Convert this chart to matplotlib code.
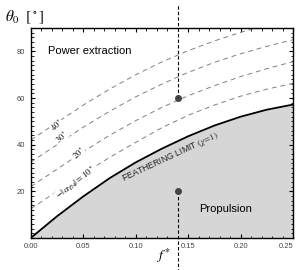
import matplotlib
matplotlib.use("Agg")
import matplotlib.pyplot as plt
from matplotlib.ticker import MultipleLocator

plt.rcParams['font.family'] = ['Liberation Sans', 'DejaVu Sans']
plt.rcParams['mathtext.fontset'] = 'stix'

# values
f = [0.0, 0.025, 0.05, 0.075, 0.10, 0.125, 0.15, 0.175, 0.20, 0.225, 0.25]
theta_feather = [0.0, 9.3, 17.8, 25.6, 32.4, 38.3, 43.6, 48.2, 52.0, 55.0, 57.2]
theta_a10 = [12.5, 20.0, 27.5, 34.5, 41.0, 47.3, 52.6, 57.0, 60.8, 63.8, 66.3]
theta_a20 = [22.0, 29.5, 37.0, 44.0, 50.3, 56.0, 61.0, 65.3, 69.2, 72.6, 75.6]
theta_a30 = [32.5, 40.0, 47.5, 54.3, 60.5, 66.0, 71.0, 75.3, 79.0, 82.2, 85.0]
theta_a40 = [42.0, 49.5, 57.0, 63.8, 70.0, 75.5, 80.3, 84.5, 88.2, 91.4, 94.2]

f_star = 0.14
theta_power = 60
theta_prop = 20

xticks = [0.0, 0.05, 0.10, 0.15, 0.20, 0.25]
yticks = [20, 40, 60, 80]

fig = plt.figure(figsize=(2.97, 2.70), dpi=100)
ax = fig.add_axes([0.104, 0.119, 0.883, 0.777])

ax.fill_between(f, 0, theta_feather, color='#d6d6d6', lw=0)
ax.plot(f, theta_feather, color='black', lw=1.3, zorder=4)

for th in (theta_a10, theta_a20, theta_a30, theta_a40):
    ax.plot(f, th, color='#808080', lw=0.7, ls=(0, (5, 4)), zorder=2)

# f* markers
ax.plot([f_star, f_star], [theta_power, 100], color='black', lw=0.8,
        ls=(0, (3, 2)), clip_on=False, zorder=3)
ax.plot([f_star, f_star], [theta_prop, -14], color='black', lw=0.8,
        ls=(0, (3, 2)), clip_on=False, zorder=3)
ax.plot([f_star], [theta_power], 'o', color='#444444', ms=4, zorder=5)
ax.plot([f_star], [theta_prop], 'o', color='#444444', ms=4, zorder=5)

# labels
box = dict(facecolor='white', edgecolor='none', pad=0.3)
ax.text(0.043, 23.4, r'$-|\,\alpha_{T/4}|=10^\circ$', fontsize=6.5, rotation=38,
        ha='center', va='center', bbox=box, zorder=3)
ax.text(0.045, 36.3, r'$20^\circ$', fontsize=6, rotation=42,
        ha='center', va='center', bbox=box, zorder=3)
ax.text(0.029, 43.4, r'$30^\circ$', fontsize=6, rotation=42,
        ha='center', va='center', bbox=box, zorder=3)
ax.text(0.0245, 48.4, r'$40^\circ$', fontsize=6, rotation=42,
        ha='center', va='center', bbox=box, zorder=3)

ax.text(0.016, 80, 'Power extraction', fontsize=8, ha='left', va='center')
ax.text(0.186, 12.4, 'Propulsion', fontsize=8, ha='center', va='center')
ax.text(0.133, 35.0, r'FEATHERING LIMIT $(\chi\!=\!1)$', fontsize=6.3,
        rotation=25, ha='center', va='center', color='#222222', zorder=5)

ax.set_xlim(0, 0.25)
ax.set_ylim(0, 90)
ax.set_xticks(xticks)
ax.set_xticklabels(['%.2f' % v for v in xticks])
ax.get_xticklabels()[-1].set_ha('right')
ax.set_yticks(yticks)
ax.xaxis.set_minor_locator(MultipleLocator(0.01))
ax.yaxis.set_minor_locator(MultipleLocator(2))
ax.tick_params(which='both', direction='in', top=True, right=True,
               labelsize=5.5, labelcolor='#444444', pad=4)
ax.tick_params(which='major', length=3, width=0.8)
ax.tick_params(which='minor', length=1.8, width=0.6)
for s in ax.spines.values():
    s.set_linewidth(1.0)

fig.text(0.017, 0.935, r'$\theta_0\ \ [^\circ]$', fontsize=11, ha='left', va='center')
fig.text(0.575, 0.055, r'$f^*$', fontsize=10, ha='right', va='center')

fig.savefig('out.png', dpi=100)
